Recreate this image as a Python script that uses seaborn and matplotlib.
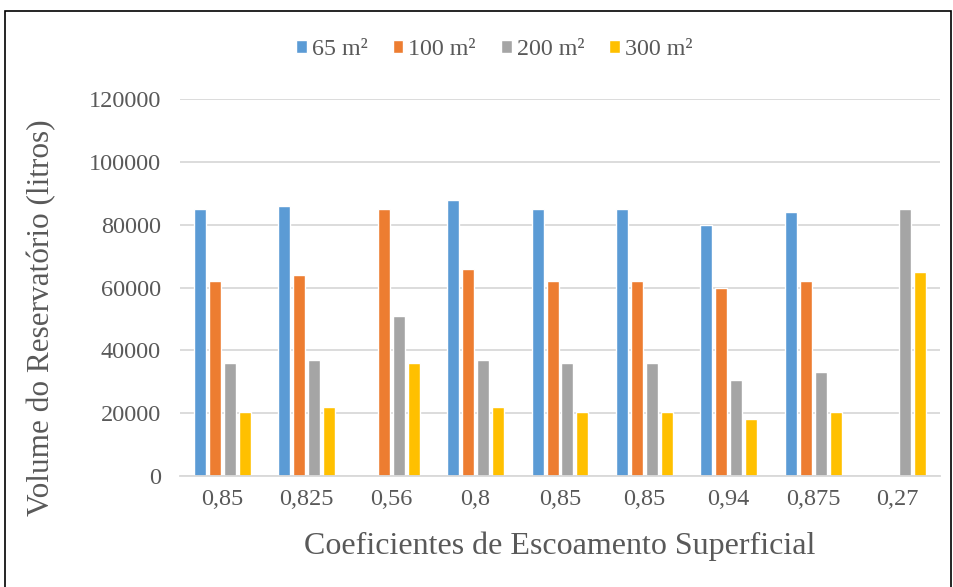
import pandas as pd
import numpy as np
import matplotlib
matplotlib.use('Agg')
import matplotlib.pyplot as plt
import seaborn as sns
from matplotlib.patches import Rectangle

# Data
coef_labels = ['0,85', '0,825', '0,56', '0,8', '0,85', '0,85', '0,94', '0,875', '0,27']
series = ['65 m²', '100 m²', '200 m²', '300 m²']
vol_65 = [85000, 86000, np.nan, 88000, 85000, 85000, 80000, 84000, np.nan]
vol_100 = [62000, 64000, 85000, 66000, 62000, 62000, 60000, 62000, np.nan]
vol_200 = [36000, 37000, 51000, 37000, 36000, 36000, 30600, 33000, 85000]
vol_300 = [20400, 22000, 36000, 22000, 20400, 20400, 18200, 20400, 65000]
colors = ['#5b9bd5', '#ed7d31', '#a5a5a5', '#ffc000']

# Long format; categories are positions because labels repeat
rows = []
for name, vals in zip(series, [vol_65, vol_100, vol_200, vol_300]):
    for i, v in enumerate(vals):
        rows.append({'pos': str(i), 'area': name, 'volume': v})
df = pd.DataFrame(rows).dropna()

sns.set_style('white')
plt.rcParams['font.family'] = ['Liberation Serif', 'DejaVu Serif']
text_gray = '#595959'

fig = plt.figure(figsize=(9.54, 5.87), dpi=100)
ax = fig.add_axes([0.189, 0.189, 0.796, 0.642])

sns.barplot(data=df, x='pos', y='volume', hue='area',
            order=[str(i) for i in range(len(coef_labels))], hue_order=series,
            palette=colors, width=0.71, gap=0.2, errorbar=None, ax=ax,
            saturation=1)

ax.set_ylim(0, 120000)
ax.set_yticks(range(0, 120001, 20000))
ax.set_xlim(-0.5, len(coef_labels) - 0.5)
ax.set_xticks(range(len(coef_labels)))
ax.set_xticklabels(coef_labels)
ax.tick_params(axis='both', length=0, labelsize=17.5, labelcolor=text_gray)
ax.tick_params(axis='x', pad=9)
ax.tick_params(axis='y', pad=14)
ax.grid(axis='y', color='#d9d9d9', linewidth=1.3)
ax.set_axisbelow(True)
for s in ['top', 'right', 'left']:
    ax.spines[s].set_visible(False)
ax.spines['bottom'].set_color('#d9d9d9')
ax.spines['bottom'].set_linewidth(1.3)

ax.set_xlabel('Coeficientes de Escoamento Superficial', fontsize=23, color=text_gray)
ax.set_ylabel('Volume do Reservatório (litros)', fontsize=22.5, color=text_gray)
ax.xaxis.set_label_coords(0.5, -0.148)
ax.yaxis.set_label_coords(-0.163, 0.42)

ax.get_legend().remove()
handles, labels = ax.get_legend_handles_labels()
fig.legend(handles, labels, loc='center', bbox_to_anchor=(0.518, 0.915), ncol=4,
           frameon=False, fontsize=17.3, handlelength=0.45, handleheight=0.45,
           handletextpad=0.2, columnspacing=1.05, labelcolor=text_gray)

# chart frame
fig.patches.append(Rectangle((5 / 954, -0.01), 946 / 954, 1 - 11 / 587 + 0.01,
                             transform=fig.transFigure, fill=False,
                             edgecolor='black', linewidth=1.2))

fig.savefig('out.png', dpi=100)
